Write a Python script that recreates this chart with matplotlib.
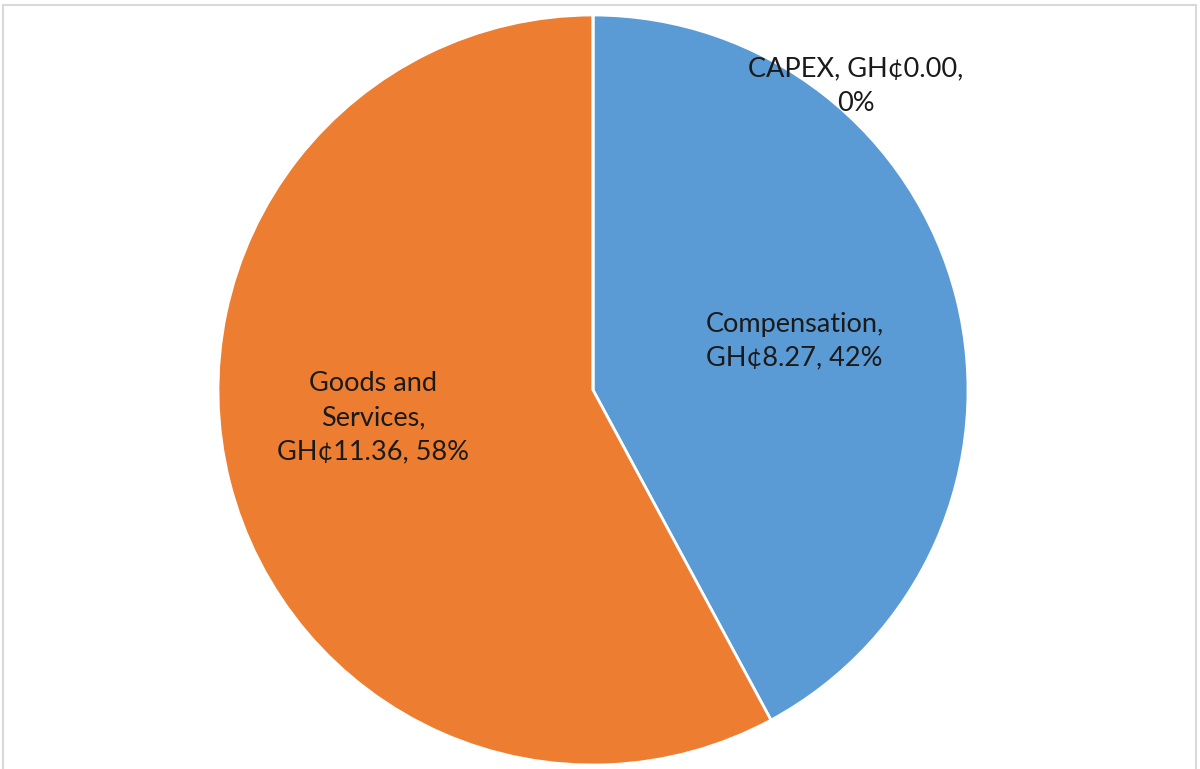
import matplotlib
matplotlib.use("Agg")
import matplotlib.pyplot as plt
from matplotlib.patches import Rectangle

categories = ["Compensation", "Goods and\nServices", "CAPEX"]
values = [8.27, 11.36, 0.00]
colors = ["#5B9BD5", "#ED7D31", "#A5A5A5"]

# label anchor points in pie data units (radius 1)
label_pos = [(0.537, 0.13), (-0.587, -0.073), (0.70, 0.81)]
label_wrap = ["{name},\nGH¢{v:.2f}, {p:.0f}%",
              "{name},\nGH¢{v:.2f}, {p:.0f}%",
              "{name}, GH¢{v:.2f},\n{p:.0f}%"]

plt.rcParams["font.family"] = ["Lato", "DejaVu Sans"]

fig = plt.figure(figsize=(12, 7.69), dpi=100)
fig.patch.set_facecolor("white")

# chart frame
fig.add_artist(Rectangle((3 / 1200, -0.01), 1193 / 1200, 1 - 5 / 769 + 0.01,
                         transform=fig.transFigure, fill=False,
                         edgecolor="#d9d9d9", lw=1.5))

ax = fig.add_axes([(593 - 375) / 1200, (379 - 375) / 769, 750 / 1200, 750 / 769])
wedges, _ = ax.pie(values, colors=colors, startangle=90, counterclock=False,
                   radius=1, wedgeprops=dict(edgecolor="white", linewidth=2))
ax.set_xlim(-1, 1)
ax.set_ylim(-1, 1)
ax.set_aspect("auto")
ax.axis("off")

total = sum(values)
for name, v, (x, y), fmt in zip(categories, values, label_pos, label_wrap):
    ax.text(x, y, fmt.format(name=name, v=v, p=100 * v / total),
            ha="center", va="center", fontsize=19.5, color="#1a1a1a",
            linespacing=1.45)

fig.savefig("out.png", dpi=100)
